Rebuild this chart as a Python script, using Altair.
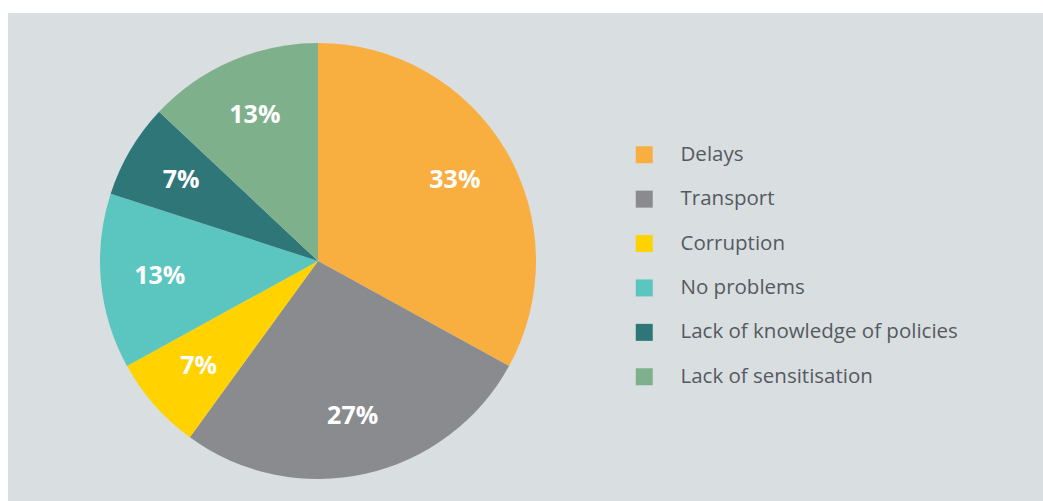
import altair as alt
import pandas as pd

categories = ["Delays", "Transport", "Corruption", "No problems",
              "Lack of knowledge of policies", "Lack of sensitisation"]
values = [33, 27, 7, 13, 7, 13]
colors = ["#F9AE40", "#8A8B8F", "#FFD200", "#5BC6BF", "#2E7678", "#7FB08C"]

df = pd.DataFrame({
    "category": categories,
    "value": values,
    "order": list(range(len(categories))),
    "label": [f"{v}%" for v in values],
})

cx, cy = 310, 248

base = alt.Chart(df).encode(
    theta=alt.Theta("value:Q", stack=True),
    order=alt.Order("order:Q"),
)

arcs = base.mark_arc(radius=218).encode(
    x=alt.value(cx), y=alt.value(cy),
    color=alt.Color(
        "category:N",
        scale=alt.Scale(domain=categories, range=colors),
        sort=categories,
        legend=alt.Legend(
            title=None, orient="none", legendX=626, legendY=131.5,
            symbolType="square", symbolSize=289, symbolStrokeWidth=0,
            labelFontSize=20.5, labelFont="Open Sans", labelColor="#555A5F",
            labelOffset=26, rowPadding=23.4, labelLimit=400,
        ),
    ),
)

texts = base.mark_text(radius=159, font="Open Sans", fontWeight="bold",
                       fontSize=25, color="white").encode(
    x=alt.value(cx), y=alt.value(cy),
    text="label:N",
)

chart = (arcs + texts).properties(
    width=1035, height=488,
    padding={"left": 8, "top": 13, "right": 0, "bottom": 0},
    autosize=alt.AutoSizeParams(type="none"),
    background="white",
).configure_view(fill="#D9DEE1", stroke=None)

chart.save("out.html", embed_options={"renderer": "svg", "actions": False})
